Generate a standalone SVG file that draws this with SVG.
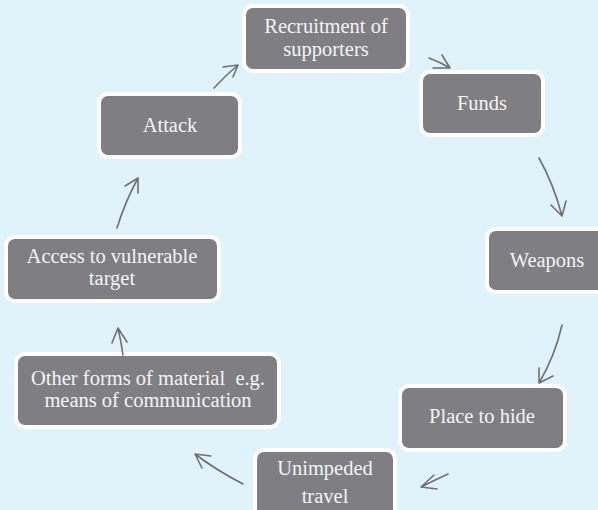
<svg xmlns="http://www.w3.org/2000/svg" width="598" height="510" viewBox="0 0 598 510">
<style>
.box{fill:#7f7f83;stroke:#ffffff;stroke-width:4}
.t{font-family:'Liberation Serif','DejaVu Serif',serif;font-size:20.5px;fill:#f4f4f4;text-anchor:middle}
.c{fill:none;stroke:#6f7073;stroke-width:1.6;stroke-linecap:round;stroke-linejoin:round}
</style>
<rect width="598" height="510" fill="#e0f2fa"/>
<g id="recruitment"><rect class="box" x="244" y="6" width="164" height="65" rx="9"/><text class="t" x="326" y="33">Recruitment of</text><text class="t" x="326" y="56">supporters</text></g>
<g id="funds"><rect class="box" x="421" y="72" width="122" height="63" rx="9"/><text class="t" x="482" y="110">Funds</text></g>
<g id="weapons"><rect class="box" x="487" y="229" width="124" height="63" rx="9"/><text class="t" x="547" y="267">Weapons</text></g>
<g id="place"><rect class="box" x="400" y="386" width="165" height="64" rx="9"/><text class="t" x="482" y="423">Place to hide</text></g>
<g id="unimpeded"><rect class="box" x="255" y="450" width="140" height="80" rx="9"/><text class="t" x="325" y="475">Unimpeded</text><text class="t" x="325" y="503">travel</text></g>
<g id="other"><rect class="box" x="16" y="354" width="263" height="73" rx="9"/><text class="t" x="148" y="385" xml:space="preserve">Other forms of material  e.g.</text><text class="t" x="148" y="407">means of communication</text></g>
<g id="access"><rect class="box" x="6" y="237" width="213" height="64" rx="9"/><text class="t" x="112" y="263">Access to vulnerable</text><text class="t" x="112" y="285">target</text></g>
<g id="attack"><rect class="box" x="99" y="94" width="141" height="63" rx="9"/><text class="t" x="170" y="132">Attack</text></g>
<g id="connectors">
<path class="c" d="M214,88 Q226,75 238,65 M223,67 L238,65 L233,77"/>
<path class="c" d="M429,58 Q440,62 450,68 M433,68 L450,68 L442,55"/>
<path class="c" d="M539,158 Q554,185 562,216 M551,205 L562,216 L566,201"/>
<path class="c" d="M562,325 Q555,356 539,383 M539,368 L539,383 L553,376"/>
<path class="c" d="M448,474 Q435,480 421,487 M434,475 L421,487 L437,489"/>
<path class="c" d="M243,484 Q216,470 195,454 M211,456 L195,454 L202,468"/>
<path class="c" d="M123,355 Q121,341 118,328 M112,343 L118,328 L127,342"/>
<path class="c" d="M117,228 Q125,202 138,178 M125,186 L138,178 L138,193"/>
</g>
</svg>
